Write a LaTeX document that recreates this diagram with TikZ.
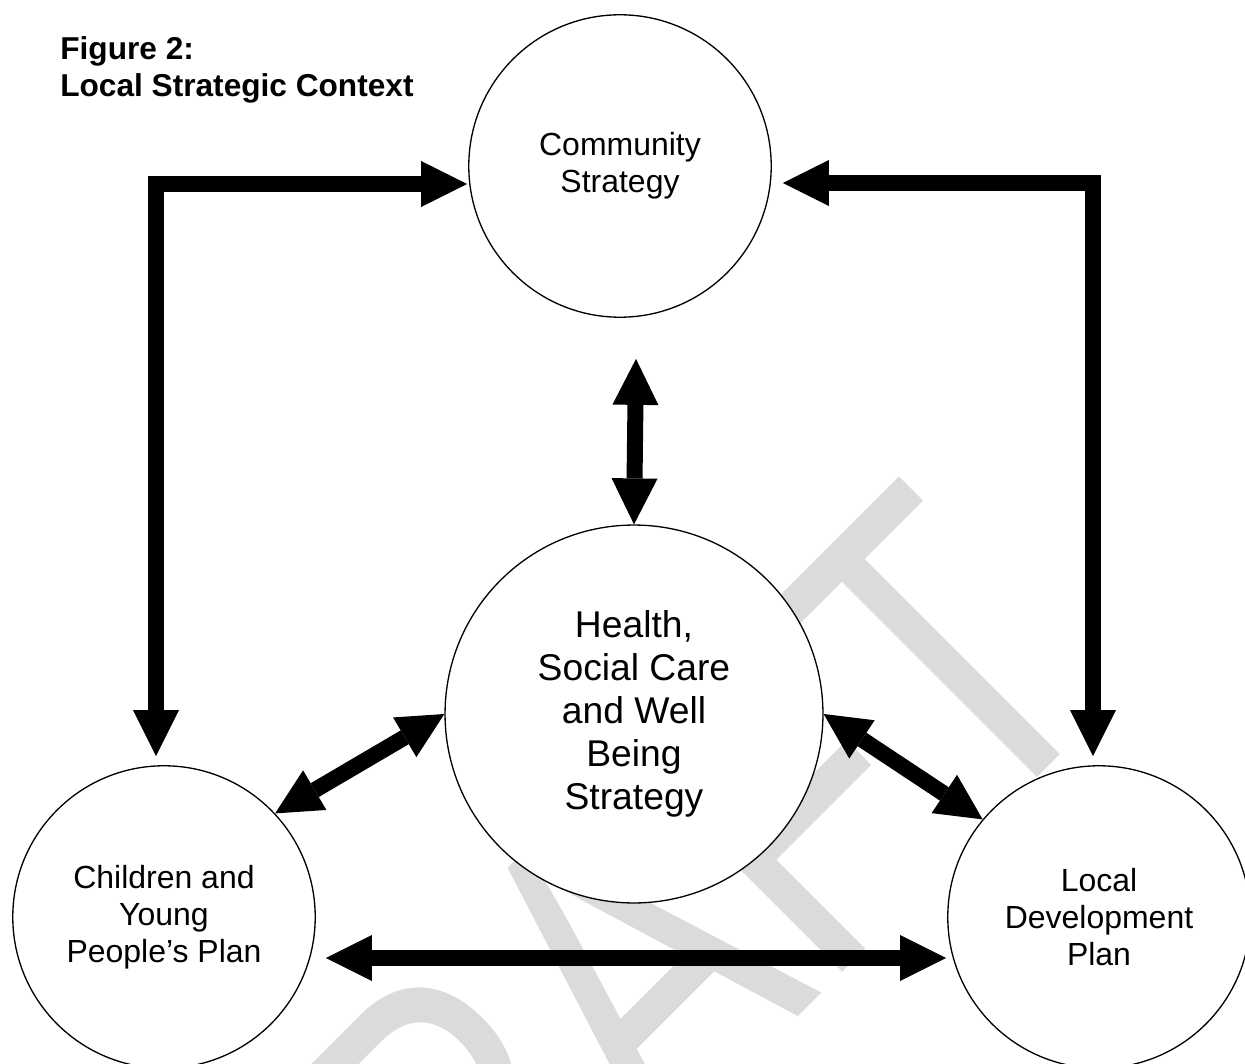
\documentclass[tikz,border=0pt]{standalone}
\usepackage{fontspec}
\setmainfont{Liberation Sans}
\usetikzlibrary{arrows.meta}

\begin{document}
\begin{tikzpicture}[
  x=0.02cm, y=-0.02cm,
  plan/.style={circle, draw=black, line width=0.75pt, fill=white, minimum size=6.05cm, inner sep=0pt, align=center, font=\fontsize{18.2}{21}\selectfont},
  mainplan/.style={plan, minimum size=7.56cm, font=\fontsize{21.2}{24.4}\selectfont},
  link/.style={line width=0.32cm, {Triangle[length=0.92cm, width=0.92cm, line width=0pt]}-{Triangle[length=0.92cm, width=0.92cm, line width=0pt]}},
  figtitle/.style={anchor=north west, inner sep=0pt, align=left, font=\bfseries\fontsize{18}{21}\selectfont},
  watermark/.style={text=black!14, font=\fontsize{199}{199}\selectfont, rotate=45, yscale=1.29, anchor=base}
]
\useasboundingbox (0,0) rectangle (1245,1064);
\clip (0,0) rectangle (1245,1064);

% Watermark behind everything
\node[watermark] (draft) at (713,1102) {DRAFT};

% Title
\node[figtitle] (title) at (60,36) {Figure 2:\\Local Strategic Context};

% Plans
\node[plan] (cs) at (620,166) {Community\\Strategy};
\node[mainplan] (hsc) at (634,714) {Health,\\Social Care\\and Well\\Being\\Strategy};
\node[plan] (cyp) at (164,917) {Children and\\Young\\People’s Plan};
\node[plan] (ldp) at (1099,917) {Local\\Development\\Plan};

% Links
\draw[link] ([shift={(-1,18)}]cs.west) -| ([shift={(-8,-9)}]cyp.north);
\draw[link] ([shift={(11,17)}]cs.east) -| ([shift={(-6,-9)}]ldp.north);
\draw[link] ([shift={(16,41)}]cs.south) -- (hsc.north);
\draw[link] (hsc.west) -- (cyp.43);
\draw[link] (hsc.east) -- (ldp.140);
\draw[link] ([shift={(10,41)}]cyp.east) -- ([shift={(-1,41)}]ldp.west);

\end{tikzpicture}
\end{document}
